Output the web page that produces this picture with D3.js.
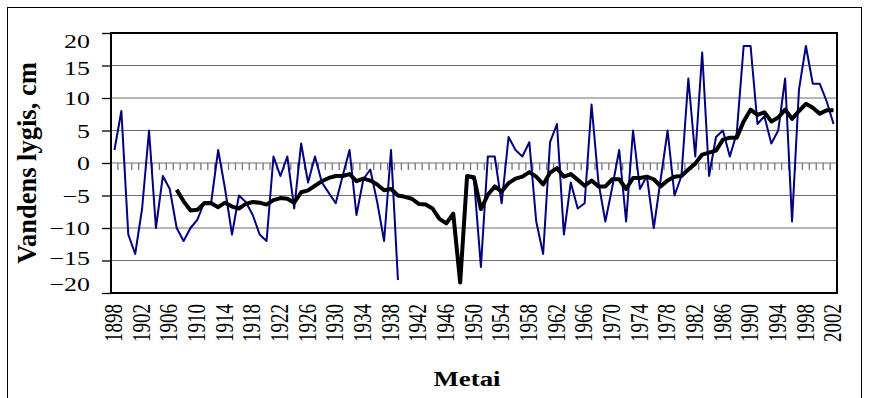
<!DOCTYPE html>
<html>
<head>
<meta charset="utf-8">
<script src="https://cdn.jsdelivr.net/npm/d3@7"></script>
<style>
  html, body { margin: 0; padding: 0; background: #fff; }
  svg { display: block; }
  text { font-family: "Liberation Serif", "Times New Roman", serif; fill: #000; }
</style>
</head>
<body>
<svg id="chart" width="874" height="398"></svg>
<script>
// ---- data ----
const years = d3.range(1898, 2003);
const labelYears = d3.range(1898, 2003, 4);
const yTicks = [-20, -15, -10, -5, 0, 5, 10, 15, 20];

// annual values (cm), null = no data
const annual = [
  2, 8, -11, -14, -7, 5, -10, -2, -4, -10,          // 1898-1907
  -12, -10, -8.7, -6, -6, 2, -4, -11, -5, -6,        // 1908-1917
  -8, -11, -12, 1, -2, 1, -7, 3, -3, 1,              // 1918-1927
  -3, -4.6, -6.2, -2, 2, -8, -2.5, -1, -6, -12,      // 1928-1937
  2, -18, null, null, null, null, null, null, null, null, // 1938-1947
  null, -2, -2.5, -16, 1, 1, -6.2, 4, 2, 1,          // 1948-1957
  3.2, -9, -14, 3.2, 6, -11, -3, -7, -6.2, 9,        // 1958-1967
  -3, -9, -3.7, 2, -9, 5, -4, -2, -10, -2.5,         // 1968-1977
  5, -5, -2, 13, 1, 17, -2, 4, 5, 1,                 // 1978-1987
  4.6, 18, 18, 6, 7.2, 3, 5, 13, -9, 11.3,           // 1988-1997
  18, 12.2, 12.2, 9.5, 6                             // 1998-2002
];

// 10-year moving average (cm)
const smooth = [
  null, null, null, null, null, null, null, null, null, -4.1,   // 1898-1907
  -5.9, -7.3, -7.2, -6.2, -6.2, -6.8, -6.1, -6.7, -7.0, -6.3,   // 1908-1917
  -6.0, -6.1, -6.4, -5.7, -5.4, -5.5, -6.1, -4.5, -4.2, -3.5,   // 1918-1927
  -2.8, -2.3, -2.0, -2.0, -1.7, -2.8, -2.4, -2.7, -3.3, -4.2,   // 1928-1937
  -4.0, -5.0, -5.2, -5.5, -6.3, -6.4, -7.0, -8.6, -9.3, -7.8,   // 1938-1947
  -18.4, -2.0, -2.2, -7.1, -4.9, -3.6, -4.4, -3.1, -2.4, -2.1,  // 1948-1957
  -1.4, -2.1, -3.3, -1.5, -0.8, -2.1, -1.7, -2.6, -3.5, -2.7,   // 1958-1967
  -3.6, -3.6, -2.5, -2.5, -4.0, -2.3, -2.3, -2.1, -2.5, -3.6,   // 1968-1977
  -2.7, -2.1, -2.0, -1.0, -0.1, 1.3, 1.6, 1.9, 3.6, 3.9,        // 1978-1987
  3.9, 6.4, 8.2, 7.4, 7.8, 6.4, 7.0, 8.2, 6.8, 8.0,             // 1988-1997
  9.1, 8.5, 7.6, 8.1, 8.1                                       // 1998-2002
];

// ---- layout ----
const svg = d3.select("#chart");
const L = 111, R = 837, T = 33, B = 293;
const SX = 1.33; // horizontal stretch of the original picture

const x = d3.scaleBand().domain(years).range([L, R]).padding(0);
const y = d3.scaleLinear().domain([-20, 20]).range([B, T]);
const cx = d => x(d) + x.bandwidth() / 2;

// outer frame
svg.append("rect").attr("x", 7.5).attr("y", 7.5).attr("width", 854).attr("height", 400)
  .attr("fill", "none").attr("stroke", "#000").attr("stroke-width", 1);

// gridlines
svg.append("g").selectAll("line").data(yTicks.filter(v => v !== 0 && Math.abs(v) !== 20)).join("line")
  .attr("x1", L).attr("x2", R).attr("y1", d => y(d)).attr("y2", d => y(d))
  .attr("stroke", "#6e6e6e").attr("stroke-width", 1);

// zero (category) axis with tick marks between categories
const zeroAxis = svg.append("g")
  .attr("transform", `translate(${x.bandwidth() / 2},${y(0)})`)
  .call(d3.axisBottom(x).tickSize(7).tickSizeOuter(0).tickFormat(""));
zeroAxis.select(".domain").remove();
zeroAxis.selectAll(".tick line").attr("stroke", "#777").attr("stroke-width", 1.3);
svg.append("line").attr("x1", L).attr("x2", R).attr("y1", y(0)).attr("y2", y(0))
  .attr("stroke", "#6e6e6e").attr("stroke-width", 1);

// lines
const lineAnnual = d3.line().defined(d => d[1] !== null).x(d => cx(d[0])).y(d => y(d[1]));
svg.append("path").datum(years.map((yr, i) => [yr, annual[i]]))
  .attr("d", lineAnnual).attr("fill", "none").attr("stroke", "#000080")
  .attr("stroke-width", 2).attr("stroke-linejoin", "round");

svg.append("path").datum(years.map((yr, i) => [yr, smooth[i]]))
  .attr("d", lineAnnual).attr("fill", "none").attr("stroke", "#000")
  .attr("stroke-width", 4).attr("stroke-linejoin", "round");

// plot border
svg.append("rect").attr("x", L).attr("y", T).attr("width", R - L).attr("height", B - T)
  .attr("fill", "none").attr("stroke", "#000").attr("stroke-width", 2);

// y axis
const labelNudge = {"20": 8, "15": 2, "-15": -3, "-20": -9};
const yAxis = svg.append("g").attr("transform", `translate(${L},0)`)
  .call(d3.axisLeft(y).tickValues(yTicks).tickSize(9).tickSizeOuter(0)
    .tickFormat(d => d < 0 ? "\u2212" + Math.abs(d) : String(d)));
yAxis.select(".domain").remove();
yAxis.selectAll(".tick line").attr("stroke", "#000").attr("stroke-width", 1.3);
yAxis.selectAll(".tick text")
  .attr("font-size", 19.5).attr("text-anchor", "end")
  .attr("x", 0).attr("dy", "0.34em")
  .attr("transform", d => `translate(-21,${labelNudge[d] || 0}) scale(${SX},1)`);

// x axis labels
const xAxis = svg.append("g").attr("transform", `translate(0,${B})`)
  .call(d3.axisBottom(x).tickValues(labelYears).tickSize(0).tickSizeOuter(0));
xAxis.select(".domain").remove();
xAxis.selectAll(".tick text")
  .attr("font-size", 19).attr("text-anchor", "end")
  .attr("x", 0).attr("y", 0).attr("dy", "0.33em")
  .attr("transform", `translate(-1,11) scale(1.38,1) rotate(-90)`);

// axis titles
svg.append("text").attr("font-size", 26.5).attr("font-weight", "bold")
  .attr("text-anchor", "middle")
  .attr("transform", "translate(36,163) rotate(-90)")
  .text("Vandens lygis, cm");

svg.append("text").attr("font-size", 22).attr("font-weight", "bold")
  .attr("text-anchor", "middle")
  .attr("transform", `translate(467,386) scale(1.22,1)`)
  .text("Metai");
</script>
</body>
</html>
